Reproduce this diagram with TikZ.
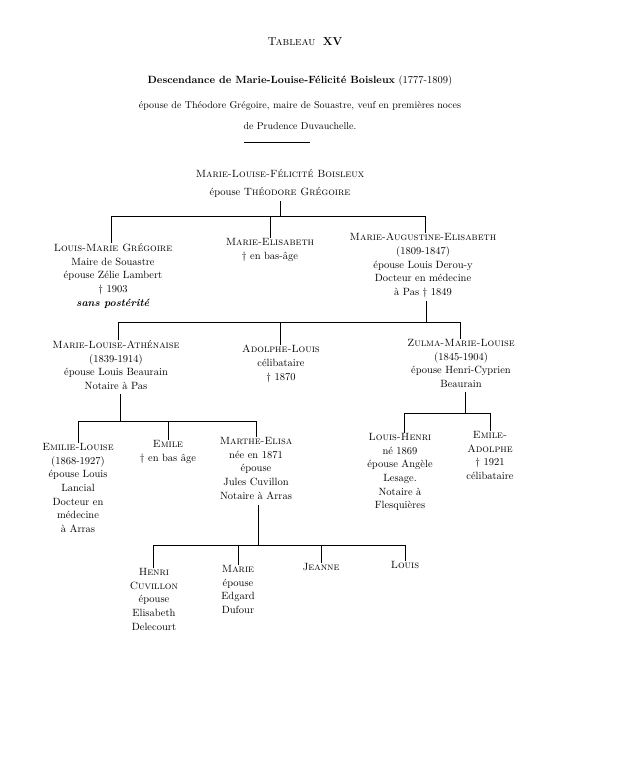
\documentclass[tikz,border=0pt]{standalone}
\usepackage{fontspec}
\begin{document}
\begin{tikzpicture}[x=1pt,y=-1pt,
  p/.style={align=center,anchor=north,inner sep=0pt,font=\fontsize{10.5}{13.7}\selectfont},
  ln/.style={line width=0.7pt}]
\useasboundingbox (0,0) rectangle (634,768);
\fill[white] (0,0) rectangle (634,768);
\node[p,font=\fontsize{11.5}{14}\selectfont] (t) at (305,37) {\textsc{Tableau}\ \ \textbf{XV}};
\node[p,font=\fontsize{10.5}{13.5}\selectfont] (h1) at (300,75) {\textbf{Descendance de Marie-Louise-Félicité Boisleux} (1777-1809)};
\node[p,font=\fontsize{10}{13}\selectfont] (h2) at (300,101) {épouse de Théodore Grégoire, maire de Souastre, veuf en premières noces};
\node[p,font=\fontsize{10}{13}\selectfont] (h3) at (300,122) {de Prudence Duvauchelle.};
\coordinate (r1) at (244,142); \coordinate (r2) at (310,142);
\draw[ln] (r1) -- (r2);

\node[p] (root) at (280,169) {\textsc{Marie-Louise-Félicité Boisleux}\\[4pt] épouse \textsc{Théodore Grégoire}};
\coordinate (b1) at (280,216);
\draw[ln] (root.south) ++(0,4) -- (b1);
\node[p] (c1) at (113,243) {\textsc{Louis-Marie Grégoire}\\Maire de Souastre\\épouse Zélie Lambert\\† 1903\\\textit{\textbf{sans postérité}}};
\node[p] (c2) at (270,238) {\textsc{Marie-Elisabeth}\\† en bas-âge};
\node[p] (c3) at (423,233) {\textsc{Marie-Augustine-Elisabeth}\\(1809-1847)\\épouse Louis Derou-y\\Docteur en médecine\\à Pas † 1849};
\draw[ln] (111,216) -- (426,216);
\foreach \n/\x in {c1/111,c2/270,c3/425} \draw[ln] (\x,216) -- (\n.north -| \x,0);

\coordinate (b2) at (426,322);
\draw[ln] (c3.south) ++(3,3) -- (b2);
\node[p] (d1) at (116,340) {\textsc{Marie-Louise-Athénaise}\\(1839-1914)\\épouse Louis Beaurain\\Notaire à Pas};
\node[p] (d2) at (281,345) {\textsc{Adolphe-Louis}\\célibataire\\† 1870};
\node[p] (d3) at (461,339) {\textsc{Zulma-Marie-Louise}\\(1845-1904)\\épouse Henri-Cyprien\\Beaurain};
\draw[ln] (118,322) -- (460,322);
\foreach \n/\x in {d1/118,d2/280,d3/460} \draw[ln] (\x,322) -- (\n.north -| \x,0);

\draw[ln] (d1.south) ++(4,4) -- (120,421);
\node[p] (e1) at (78,443) {\textsc{Emilie-Louise}\\(1868-1927)\\épouse Louis\\Lancial\\Docteur en\\médecine\\à Arras};
\node[p] (e2) at (168,440) {\textsc{Emile}\\† en bas âge};
\node[p] (e3) at (256,437) {\textsc{Marthe-Elisa}\\née en 1871\\épouse\\Jules Cuvillon\\Notaire à Arras};
\draw[ln] (78,421) -- (256,421);
\foreach \n/\x in {e1/78,e2/168,e3/256} \draw[ln] (\x,421) -- (\n.north -| \x,0);

\draw[ln] (d3.south) ++(4,4) -- (465,413);
\node[p] (f1) at (400,433) {\textsc{Louis-Henri}\\né 1869\\épouse Angèle\\Lesage.\\Notaire à\\Flesquières};
\node[p] (f2) at (490,431) {\textsc{Emile-}\\\textsc{Adolphe}\\† 1921\\célibataire};
\draw[ln] (404,413) -- (490,413);
\foreach \n/\x in {f1/404,f2/490} \draw[ln] (\x,413) -- (\n.north -| \x,0);

\draw[ln] (e3.south) ++(2,6) -- (258,545);
\node[p] (g1) at (154,568) {\textsc{Henri}\\\textsc{Cuvillon}\\épouse\\Elisabeth\\Delecourt};
\node[p] (g2) at (238,565) {\textsc{Marie}\\épouse\\Edgard\\Dufour};
\node[p] (g3) at (321,563) {\textsc{Jeanne}};
\node[p] (g4) at (405,561) {\textsc{Louis}};
\draw[ln] (153,545) -- (405,545);
\foreach \n/\x in {g1/153,g2/238,g3/321,g4/405} \draw[ln] (\x,545) -- (\n.north -| \x,0);
\end{tikzpicture}
\end{document}
